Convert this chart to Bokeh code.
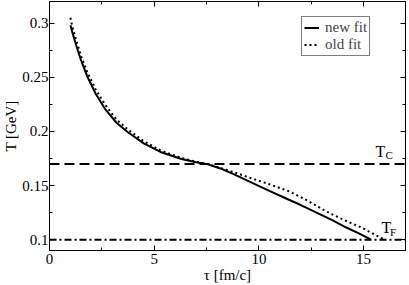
from bokeh.plotting import figure
from bokeh.models import (LinearAxis, FixedTicker, Span, Legend, LegendItem, Label, Range1d)
from bokeh.embed import file_html
from bokeh.resources import INLINE

# ---- data ----
tau_new = [1.0, 1.1, 1.25, 1.5, 1.8, 2.2, 2.66, 3.2, 3.76, 4.5, 5.3, 6.3, 7.0, 7.5,
           8.16, 8.79, 9.73, 10.5, 11.3, 12.0, 12.8, 13.5, 14.2, 14.8, 15.35]
T_new = [0.298, 0.291, 0.281, 0.266, 0.251, 0.235, 0.2205, 0.208, 0.199, 0.189, 0.181,
         0.1745, 0.1715, 0.170, 0.1658, 0.1605, 0.152, 0.145, 0.138, 0.132, 0.1245,
         0.118, 0.111, 0.1055, 0.100]

tau_old = [1.0, 1.1, 1.25, 1.5, 1.8, 2.2, 2.66, 3.2, 3.76, 4.5, 5.3, 6.3, 7.0, 7.5,
           8.4, 8.79, 9.66, 10.52, 11.46, 12.33, 13.35, 14.2, 14.92, 15.5, 16.0]
T_old = [0.305, 0.296, 0.286, 0.270, 0.255, 0.239, 0.2245, 0.211, 0.2015, 0.191, 0.1825,
         0.1755, 0.172, 0.1702, 0.1648, 0.1625, 0.1566, 0.1511, 0.1445, 0.136, 0.1247,
         0.117, 0.111, 0.105, 0.100]

T_C = 0.17
T_F = 0.10

x_ticks = [0, 5, 10, 15]
x_minor = [2.5, 7.5, 12.5]
y_ticks = [0.1, 0.15, 0.2, 0.25, 0.3]
y_minor = [0.125, 0.175, 0.225, 0.275]
y_tick_labels = ["0.1", "0.15", "0.2", "0.25", "0.3"]

legend_labels = ["new fit", "old fit"]
x_label = "τ [fm/c]"
y_label = "T [GeV]"

FONT = "Liberation Serif"

p = figure(width=409, height=285, output_backend="svg", toolbar_location=None,
           x_axis_location=None, y_axis_location=None,
           x_range=Range1d(0, 17), y_range=Range1d(0.09, 0.32),
           min_border_left=0, min_border_right=4, min_border_top=1, min_border_bottom=33)
p.xgrid.visible = False
p.ygrid.visible = False
p.outline_line_color = "black"
p.outline_line_width = 1
p.background_fill_color = "white"
p.border_fill_color = "white"

xt = FixedTicker(ticks=x_ticks, minor_ticks=x_minor)
yt = FixedTicker(ticks=y_ticks, minor_ticks=y_minor)


def style(ax, labels=True):
    ax.axis_line_color = "black"
    ax.major_tick_in = 5
    ax.major_tick_out = 0
    ax.minor_tick_in = 3
    ax.minor_tick_out = 0
    ax.major_tick_line_color = "black"
    ax.minor_tick_line_color = "black"
    ax.major_label_text_font = FONT
    ax.major_label_text_font_size = "15px"
    ax.major_label_text_color = "black"
    ax.major_label_text_line_height = 1.0
    ax.axis_label_text_font = FONT
    ax.axis_label_text_font_size = "15px"
    ax.axis_label_text_font_style = "normal"
    ax.axis_label_text_color = "black"
    ax.axis_label_text_line_height = 1.0
    if not labels:
        ax.major_label_text_color = None
        ax.major_label_text_font_size = "1px"
        ax.major_label_standoff = 0


xb = LinearAxis(ticker=xt, axis_label=x_label)
style(xb)
xb.major_label_standoff = 3
xb.axis_label_standoff = 0
p.add_layout(xb, "below")

yl = LinearAxis(ticker=yt, axis_label=y_label,
                major_label_overrides={v: s for v, s in zip(y_ticks, y_tick_labels)})
style(yl)
yl.major_label_standoff = 1
yl.axis_label_standoff = 0
p.add_layout(yl, "left")

xa = LinearAxis(ticker=xt)
style(xa, labels=False)
p.add_layout(xa, "above")

yr = LinearAxis(ticker=yt)
style(yr, labels=False)
p.add_layout(yr, "right")

# reference lines
p.add_layout(Span(location=T_C, dimension="width", line_color="black",
                  line_width=2, line_dash="10 5"))
p.add_layout(Span(location=T_F, dimension="width", line_color="black",
                  line_width=2, line_dash="7 3 2 3"))

r_new = p.line(tau_new, T_new, line_color="black", line_width=2)
r_old = p.line(tau_old, T_old, line_color="black", line_width=2, line_dash="2 3")

legend = Legend(items=[LegendItem(label=legend_labels[0], renderers=[r_new]),
                       LegendItem(label=legend_labels[1], renderers=[r_old])],
                location=(252, 194))
legend.border_line_color = "black"
legend.border_line_width = 1
legend.background_fill_color = "white"
legend.background_fill_alpha = 1
legend.label_text_font = FONT
legend.label_text_font_size = "15px"
legend.label_text_line_height = 0.9
legend.label_height = 13
legend.glyph_height = 13
legend.glyph_width = 15
legend.label_standoff = 6
legend.label_width = 10
legend.padding = 2
legend.spacing = 0
legend.margin = 0
p.add_layout(legend, "center")

# T_C and T_F labels
p.add_layout(Label(x=15.57, y=0.1816, text="T", text_font=FONT, text_font_size="16px",
                   text_baseline="alphabetic", text_color="black"))
p.add_layout(Label(x=16.05, y=0.178, text="C", text_font=FONT, text_font_size="11px",
                   text_baseline="alphabetic", text_color="black"))
p.add_layout(Label(x=15.85, y=0.111, text="T", text_font=FONT, text_font_size="16px",
                   text_baseline="alphabetic", text_color="black"))
p.add_layout(Label(x=16.26, y=0.1072, text="F", text_font=FONT, text_font_size="11px",
                   text_baseline="alphabetic", text_color="black"))

open("out.html", "w").write(file_html(p, INLINE))
